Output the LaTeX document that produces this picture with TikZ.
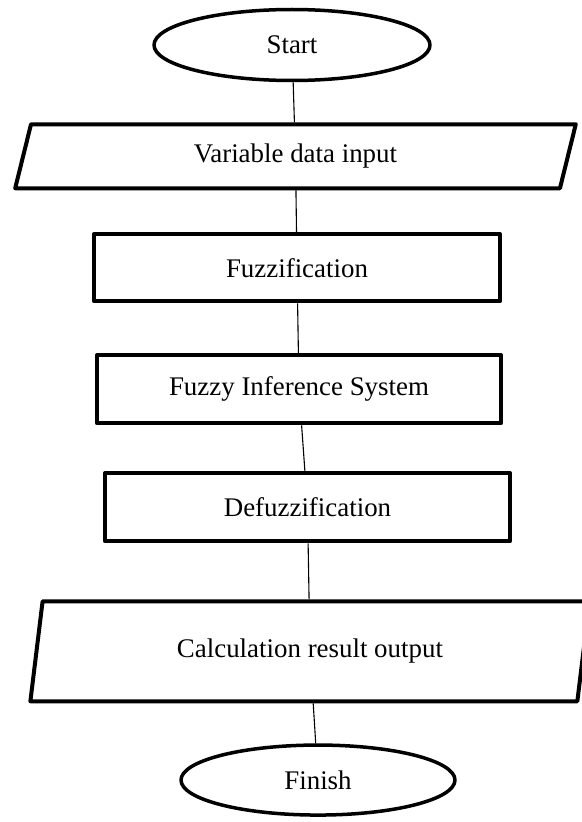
\documentclass[tikz,border=0pt]{standalone}
\usepackage{fontspec}
\setmainfont{Liberation Serif}
\usetikzlibrary{shapes.geometric,positioning}

\begin{document}
\begin{tikzpicture}[x=1bp, y=1bp, line join=round,
    every node/.style={font=\fontsize{27}{32}\selectfont, inner sep=0pt},
    term/.style={ellipse, draw, line width=3.5bp, minimum width=276bp, minimum height=71bp},
    io/.style={trapezium, trapezium left angle=76, trapezium right angle=104,
               trapezium stretches=true, draw, line width=4bp,
               minimum width=561bp, minimum height=64bp},
    proc/.style={rectangle, draw, line width=4bp, minimum height=67bp},
    line/.style={line width=1.1bp}]
    \useasboundingbox (0,0) rectangle (582,-822);

    % Nodes {start, input, fuzz, fis, defuzz, output, finish}
    \node [term] 	(start) 	at (292,-45) 	{Start};
    \node [io] 		(input) 	[below=40bp of start, xshift=3.5bp] 	{Variable data input};
    \node [proc, minimum width=406bp] 	(fuzz) 	[below=42bp of input, xshift=1.5bp] 	{Fuzzification};
    \node [proc, minimum width=404bp, minimum height=68bp] 	(fis) 	[below=50bp of fuzz, xshift=2bp] 	{Fuzzy Inference System};
    \node [proc, minimum width=405bp, minimum height=68bp] 	(defuzz) 	[below=46bp of fis, xshift=8.5bp] 	{Defuzzification};
    \node [io, minimum height=100bp] 	(output) 	[below=56bp of defuzz, xshift=2.5bp] 	{Calculation result output};
    \node [term, minimum width=274bp, minimum height=70bp] 	(finish) 	[below=40bp of output, xshift=8bp] 	{Finish};

    % Paths
    \path [line] 	(start) 	edge 	(input);
    \path [line] 	(input) 	edge 	(fuzz);
    \path [line] 	(fuzz) 		edge 	(fis);
    \path [line] 	(fis) 		edge 	(defuzz);
    \path [line] 	(defuzz) 	edge 	(output);
    \path [line] 	(output) 	edge 	(finish);

\end{tikzpicture}
\end{document}
